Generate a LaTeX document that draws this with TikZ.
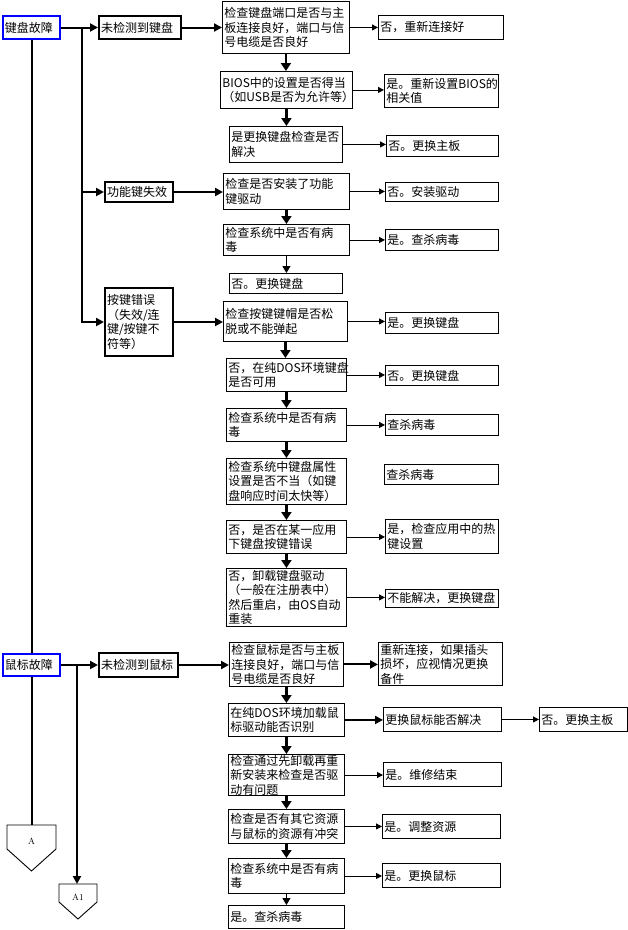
\documentclass[tikz,border=0pt]{standalone}
\usepackage{fontspec}
\newfontfamily\cjk{Noto Sans CJK SC}
\usetikzlibrary{arrows.meta}
\definecolor{fault-blue}{HTML}{0000FF}

\begin{document}
\begin{tikzpicture}[x=1pt, y=-1pt,
    every node/.style={font=\cjk\fontsize{12}{14.5}\selectfont},
    box/.style={draw, line width=0.9pt, anchor=north west, align=left,
                inner xsep=2pt, inner ysep=0.5pt},
    kindbox/.style={box, line width=2pt},
    faultbox/.style={box, draw=fault-blue, line width=2pt},
    thinarr/.style={line width=0.9pt, -{Triangle[length=6pt,width=6pt]}},
    thickarr/.style={line width=2pt, -{Triangle[length=8pt,width=8pt]}},
    downarr/.style={line width=2.5pt, -{Triangle[length=8pt,width=10pt]}}]
  \useasboundingbox (0,0) rectangle (628,930);

  % keyboard
  \node[faultbox, text width=53pt, minimum height=23pt] (kb) at (2,15) {键盘故障};
  \node[kindbox, text width=78pt, minimum height=23pt] (kb1) at (98,15) {未检测到键盘};
  \node[box, text width=123pt, minimum height=52pt] (k11) at (222,1)
       {检查键盘端口是否与主\\板连接良好，端口与信\\号电缆是否良好};
  \node[box, text width=121pt, minimum height=24pt] (k11r) at (378,15) {否，重新连接好};
  \node[box, text width=128pt, minimum height=37pt] (k12) at (220,71)
       {BIOS中的设置是否得当\\（如USB是否为允许等）};
  \node[box, text width=110pt, minimum height=33pt] (k12r) at (384,74) {是。重新设置BIOS的\\相关值};
  \node[box, text width=109pt, minimum height=36pt] (k13) at (229,126) {是更换键盘检查是否\\解决};
  \node[box, text width=108pt, minimum height=21pt] (k13r) at (386,135) {否。更换主板};

  \node[kindbox, text width=64pt, minimum height=20pt] (kb2) at (104,181) {功能键失效};
  \node[box, text width=122pt, minimum height=36pt] (k21) at (223,173) {检查是否安装了功能\\键驱动};
  \node[box, text width=109pt, minimum height=19pt] (k21r) at (385,182) {否。安装驱动};
  \node[box, text width=122pt, minimum height=31pt] (k22) at (223,224) {检查系统中是否有病\\毒};
  \node[box, text width=109pt, minimum height=21pt] (k22r) at (385,229) {是。查杀病毒};
  \node[box, text width=109pt, minimum height=20pt] (k23) at (229,273) {否。更换键盘};

  \node[kindbox, text width=64pt, minimum height=68pt] (kb3) at (104,287)
       {按键错误\\（失效/连\\键/按键不\\符等）};
  \node[box, text width=120pt, minimum height=40pt] (k31) at (223,301) {检查按键键帽是否松\\脱或不能弹起};
  \node[box, text width=109pt, minimum height=21pt] (k31r) at (385,312) {是。更换键盘};
  \node[box, text width=116pt, minimum height=33pt] (k32) at (226,358) {否，在纯DOS环境键盘\\是否可用};
  \node[box, text width=109pt, minimum height=20pt] (k32r) at (385,365) {否。更换键盘};
  \node[box, text width=116pt, minimum height=33pt] (k33) at (226,408) {检查系统中是否有病\\毒};
  \node[box, text width=109pt, minimum height=21pt] (k33r) at (385,414) {查杀病毒};
  \node[box, text width=116pt, minimum height=46pt] (k34) at (226,458)
       {检查系统中键盘属性\\设置是否不当（如键\\盘响应时间太快等）};
  \node[box, text width=110pt, minimum height=20pt] (k34r) at (384,464) {查杀病毒};
  \node[box, text width=116pt, minimum height=33pt] (k35) at (226,520) {否，是否在某一应用\\下键盘按键错误};
  \node[box, text width=109pt, minimum height=34pt] (k35r) at (385,519) {是，检查应用中的热\\键设置};
  \node[box, text width=116pt, minimum height=58pt] (k36) at (226,568)
       {否，卸载键盘驱动\\（一般在注册表中）\\然后重启，由OS自动\\重装};
  \node[box, text width=109pt, minimum height=18pt] (k36r) at (385,589) {不能解决，更换键盘};

  % mouse
  \node[faultbox, text width=53pt, minimum height=22pt] (ms) at (2,653) {鼠标故障};
  \node[kindbox, text width=75pt, minimum height=24pt] (ms1) at (98,652) {未检测到鼠标};
  \node[box, text width=110pt, minimum height=44pt] (m1) at (229,642)
       {检查鼠标是否与主板\\连接良好，端口与信\\号电缆是否良好};
  \node[box, text width=120pt, minimum height=43pt] (m1r) at (378,642)
       {重新连接，如果插头\\损坏，应视情况更换\\备件};
  \node[box, text width=112pt, minimum height=33pt] (m2) at (228,703) {在纯DOS环境加载鼠\\标驱动能否识别};
  \node[box, text width=114pt, minimum height=24pt] (m2r) at (383,707) {更换鼠标能否解决};
  \node[box, text width=84pt, minimum height=24pt] (m2rr) at (539,707) {否。更换主板};
  \node[box, text width=112pt, minimum height=40pt] (m3) at (228,754)
       {检查通过先卸载再重\\新安装来检查是否驱\\动有问题};
  \node[box, text width=114pt, minimum height=24pt] (m3r) at (383,762) {是。维修结束};
  \node[box, text width=112pt, minimum height=34pt] (m4) at (228,809) {检查是否有其它资源\\与鼠标的资源有冲突};
  \node[box, text width=114pt, minimum height=24pt] (m4r) at (382,814) {是。调整资源};
  \node[box, text width=112pt, minimum height=35pt] (m5) at (228,858) {检查系统中是否有病\\毒};
  \node[box, text width=114pt, minimum height=24pt] (m5r) at (382,863) {是。更换鼠标};
  \node[box, text width=112pt, minimum height=23pt] (m6) at (228,905) {是。查杀病毒};

  % off-page connectors
  \draw[line width=0.9pt] (7,825) -- (56,825) -- (56,849) -- (31.5,871) -- (7,849) -- cycle;
  \node[font=\normalfont\small] (pA) at (31.5,841) {A};
  \coordinate (pAtop) at (31.5,825);
  \draw[line width=0.9pt] (59,884) -- (97,884) -- (97,902) -- (78,919) -- (59,902) -- cycle;
  \node[font=\normalfont\small] (pA1) at (78,897) {A1};
  \coordinate (pA1top) at (77,884);

  \coordinate (kbfork) at (82,27);
  \coordinate (msfork) at (77,664);

  % keyboard connectors
  \draw[line width=2pt] (kb.south) -- (ms.north);
  \draw[thickarr] (kb.east) -- (kb1.west);
  \draw[thickarr] (kbfork) |- (kb2.west);
  \draw[thickarr] (kbfork) |- (kb3.west);
  \draw[thickarr] (kb1.east) -- (kb1.east -| k11.west);
  \draw[thinarr] (k11.east) -- (k11.east -| k11r.west);
  \draw[downarr] (k11.south) -- (k11.south |- k12.north);
  \draw[thinarr] (k12.east) -- (k12.east -| k12r.west);
  \draw[downarr] (k12.south) -- (k12.south |- k13.north);
  \draw[thinarr] (k13.east) -- (k13.east -| k13r.west);

  \draw[thickarr] (kb2.east) -- (kb2.east -| k21.west);
  \draw[thinarr] (k21.east) -- (k21.east -| k21r.west);
  \draw[downarr] (k21.south) -- (k21.south |- k22.north);
  \draw[thinarr] (k22.east) -- (k22.east -| k22r.west);
  \draw[thinarr, -{Triangle[length=7pt,width=8pt]}] (k22.south) -- (k22.south |- k23.north);

  \draw[thickarr] (kb3.east) -- (kb3.east -| k31.west);
  \draw[thinarr] (k31.east) -- (k31.east -| k31r.west);
  \draw[downarr] (k31.south) -- (k31.south |- k32.north);
  \draw[thinarr] (k32.east) -- (k32.east -| k32r.west);
  \draw[downarr] (k32.south) -- (k32.south |- k33.north);
  \draw[thinarr] (k33.east) -- (k33.east -| k33r.west);
  \draw[downarr] (k33.south) -- (k33.south |- k34.north);
  \draw[downarr] (k34.south) -- (k34.south |- k35.north);
  \draw[thinarr] (k35.east) -- (k35.east -| k35r.west);
  \draw[downarr] (k35.south) -- (k35.south |- k36.north);
  \draw[thinarr] (k36.east) -- (k36.east -| k36r.west);

  % mouse connectors
  \draw[line width=2pt] (ms.south) -- (ms.south |- pAtop);
  \draw[thickarr] (ms.east) -- (ms1.west);
  \draw[thickarr] (msfork) -- (pA1top);
  \draw[thickarr] (ms1.east) -- (ms1.east -| m1.west);
  \draw[thickarr] (m1.east) -- (m1.east -| m1r.west);
  \draw[downarr] (m1.south) -- (m1.south |- m2.north);
  \draw[thickarr] (m2.east) -- (m2.east -| m2r.west);
  \draw[thinarr] (m2r.east) -- (m2r.east -| m2rr.west);
  \draw[downarr] (m2.south) -- (m2.south |- m3.north);
  \draw[thinarr] (m3.east) -- (m3.east -| m3r.west);
  \draw[downarr] (m3.south) -- (m3.south |- m4.north);
  \draw[thinarr] (m4.east) -- (m4.east -| m4r.west);
  \draw[downarr] (m4.south) -- (m4.south |- m5.north);
  \draw[thinarr] (m5.east) -- (m5.east -| m5r.west);
  \draw[thinarr, -{Triangle[length=7pt,width=8pt]}] (m5.south) -- (m5.south |- m6.north);
\end{tikzpicture}
\end{document}
